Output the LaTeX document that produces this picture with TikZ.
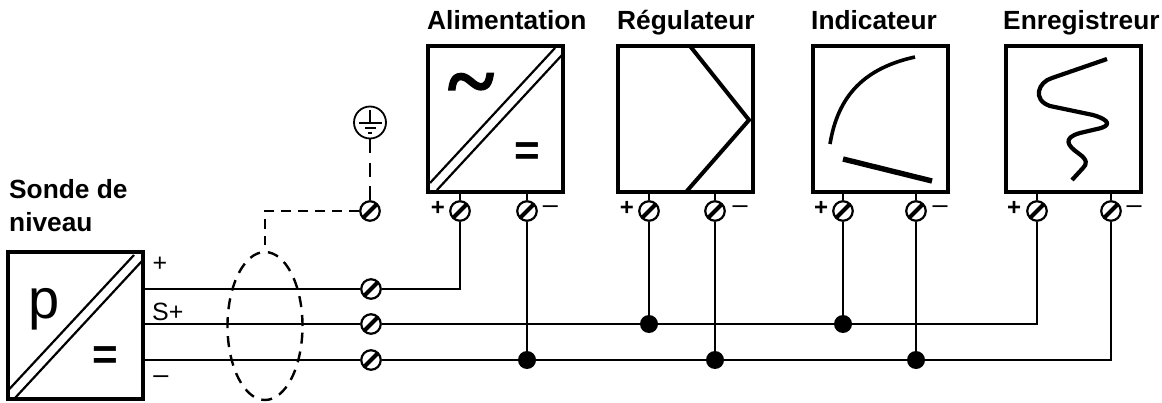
\documentclass[tikz,border=0pt]{standalone}
\usepackage{fontspec}
\usetikzlibrary{shapes.geometric}
\setmainfont{Liberation Sans}
\newfontfamily\serfont[FakeBold=1.6]{Liberation Serif}
\tikzset{
  dev/.style={rectangle,draw,line width=4pt,minimum width=135pt,minimum height=146pt,inner sep=0pt},
  term/.style={circle,draw,fill=white,line width=2.2pt,minimum size=19.5pt,inner sep=0pt,
    path picture={\draw[line width=4pt] (path picture bounding box.south west)--(path picture bounding box.north east);}},
  jdot/.style={circle,fill=black,minimum size=18pt,inner sep=0pt},
  wire/.style={line width=2.2pt},
  shield/.style={line width=2.4pt,dash pattern=on 10pt off 7pt},
  title/.style={anchor=base west,inner sep=0pt,font=\fontsize{26.3}{30}\selectfont\bfseries},
  sign/.style={inner sep=0pt,font=\fontsize{24}{28}\selectfont\bfseries},
  lab/.style={inner sep=0pt,font=\fontsize{25}{28}\selectfont},
  dashmark/.style={inner sep=0pt,font=\fontsize{27}{28}\selectfont},
  diag/.style={line width=2.2pt},
  eq/.style={inner sep=0pt,font=\fontsize{44}{48}\selectfont\bfseries},
}
\begin{document}
\begin{tikzpicture}[x=1pt,y=-1pt]
\useasboundingbox (0,0) rectangle (1162,403);
% devices
\node[dev] (probe) at (75.5,325.5) {};
\node[dev] (ali) at (495.5,119) {};
\node[dev] (reg) at (685,119) {};
\node[dev] (ind) at (880,119) {};
\node[dev] (enr) at (1073.5,119) {};
% titles
\node[title] (tali) at (427,30) {Alimentation};
\node[title] (treg) at (617,30) {Régulateur};
\node[title] (tind) at (811,30) {Indicateur};
\node[title] (tenr) at (1003,30) {Enregistreur};
\node[title] (tson1) at (9,199) {Sonde de};
\node[title] (tson2) at (9,232) {niveau};
% device symbols
\draw[diag] (430,183)--(555,48) (437,190)--(562,55);
\draw[diag] (8.5,390)--(134,255) (15,398)--(142,261);
\node[inner sep=0pt,font=\serfont\fontsize{88}{90}\selectfont\bfseries] (tilde) at (471,92) {\char"007E};
\node[eq] (eqa) at (527.5,154) {=};
\node[eq] (eqp) at (105,358) {=};
\node[inner sep=0pt,anchor=base,font=\fontsize{56}{60}\selectfont] (pp) at (44.5,319) {p};
\draw[line width=4pt] (690,46)--(749,120)--(686,192);
\draw[line width=3.6pt] (830,144) .. controls (838,95) and (865,68) .. (915,57);
\draw[line width=5.4pt] (843,159)--(932,181);
\draw[line width=4.2pt,line join=round] (1107,59)--(1052,78) .. controls (1038,82) and (1032,100) .. (1050,106)
  -- (1093,115) .. controls (1110,120) and (1112,126) .. (1097,129) -- (1080,133)
  .. controls (1062,138) and (1068,146) .. (1078,153) .. controls (1088,160) and (1087,164) .. (1083,168) -- (1072,180);
% terminals
\node[term] (Te) at (370,211) {};
\node[term] (T1) at (460,211) {};
\node[term] (T2) at (527,211) {};
\node[term] (T3) at (649,211) {};
\node[term] (T4) at (715,211) {};
\node[term] (T5) at (843,211) {};
\node[term] (T6) at (916,211) {};
\node[term] (T7) at (1037,211) {};
\node[term] (T8) at (1111,211) {};
\node[term] (L1) at (371,289) {};
\node[term] (L2) at (371,324) {};
\node[term] (L3) at (371,360) {};
% junctions
\node[jdot] (d1) at (527,360) {};
\node[jdot] (d2) at (649,324) {};
\node[jdot] (d3) at (715,360) {};
\node[jdot] (d4) at (843,324) {};
\node[jdot] (d5) at (916,360) {};
% signs
\foreach \n/\x in {a/438,b/627,c/821,d/1014}{\node[sign] (plus\n) at (\x,208) {+};}
\foreach \n/\x in {a/550.5,b/740,c/940,d/1134}{\node[dashmark] (minus\n) at (\x,210) {–};}
\node[lab] (lplus) at (160,264) {+};
\node[lab,anchor=base west] (ls) at (152,320) {S+};
\node[dashmark] (lminus) at (161,380) {–};
% stubs between boxes and terminals
\foreach \t/\b in {T1/ali,T2/ali,T3/reg,T4/reg,T5/ind,T6/ind,T7/enr,T8/enr}{\draw[wire] (\t.north)--(\t |- \b.south);}
% wires
\draw[wire] (L1 -| probe.east)--(L1.west);
\draw[wire] (L2 -| probe.east)--(L2.west);
\draw[wire] (L3 -| probe.east)--(L3.west);
\draw[wire] (L1.east)-|(T1.south);
\draw[wire] (L2.east)--(d2)--(d4)-|(T7.south);
\draw[wire] (L3.east)--(d1)--(d3)--(d5)-|(T8.south);
\draw[wire] (T2.south)--(d1);
\draw[wire] (T3.south)--(d2);
\draw[wire] (T4.south)--(d3);
\draw[wire] (T5.south)--(d4);
\draw[wire] (T6.south)--(d5);
% shield
\node[draw,ellipse,minimum width=75pt,minimum height=148pt,inner sep=0pt,shield,dash pattern=on 11pt off 8pt] (cable) at (265,326) {};
\coordinate (stop) at (265,245);
\draw[shield] (Te.west)-|(stop);
% earth
\node[circle,draw,line width=1.8pt,minimum size=32pt,inner sep=0pt] (gnd) at (370,122.5) {};
\draw[line width=1.8pt] (370,110)--(370,123) (359,123)--(382,123) (365,128)--(376,128);
\draw[line width=2pt] (368,133)--(372,133);
\draw[wire,dash pattern=on 14pt off 9.5pt] (gnd.south)--(Te.north);
\end{tikzpicture}
\end{document}
